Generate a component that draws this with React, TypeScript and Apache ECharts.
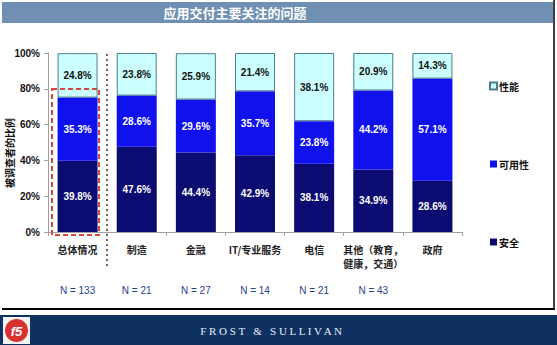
import React, { useEffect, useRef } from "react";
import * as echarts from "echarts";

const categories = ["总体情况", "制造", "金融", "IT/专业服务", "电信", "其他（教育，\n健康，交通）", "政府"];
const sampleSizes = ["N = 133", "N = 21", "N = 27", "N = 14", "N = 21", "N = 43", ""];
const security = [39.8, 47.6, 44.4, 42.9, 38.1, 34.9, 28.6];
const availability = [35.3, 28.6, 29.6, 35.7, 23.8, 44.2, 57.1];
const performance = [24.8, 23.8, 25.9, 21.4, 38.1, 20.9, 14.3];
const yTicks = [0, 20, 40, 60, 80, 100];

const TITLE = "应用交付主要关注的问题";
const Y_NAME = "被调查者的比例";

export default function App() {
  const ref = useRef<HTMLDivElement>(null);
  useEffect(() => {
    if (!ref.current) return;
    const chart = echarts.init(ref.current, null, { renderer: "svg" });
    const labelFont = { fontFamily: "Liberation Sans, Arial, sans-serif", fontWeight: "bold" as const, fontSize: 10 };
    const cjk = "Noto Sans CJK SC, sans-serif";
    chart.setOption({
      animation: false,
      backgroundColor: "#ffffff",
      grid: { left: 48, right: 95, top: 53, bottom: 113, containLabel: false, outerBoundsMode: "none" },
      legend: {
        orient: "vertical",
        left: 484,
        top: 76,
        itemGap: 68,
        itemWidth: 7,
        itemHeight: 7,
        icon: "rect",
        data: ["性能", "可用性", "安全"],
        textStyle: { fontFamily: cjk, fontSize: 10, fontWeight: "bold", color: "#111", padding: [0, 0, 0, -3] },
      },
      xAxis: [
        {
          type: "category",
          data: categories,
          axisLine: { lineStyle: { color: "#a0a0a0" } },
          axisTick: { show: true, length: 4, lineStyle: { color: "#a0a0a0" } },
          axisLabel: { margin: 10, fontFamily: cjk, fontSize: 10, fontWeight: "bold", color: "#222", lineHeight: 14, interval: 0 },
        },
        {
          type: "category",
          data: sampleSizes,
          position: "bottom",
          offset: 45,
          axisLine: { show: false },
          axisTick: { show: false },
          axisLabel: { margin: 8, fontFamily: "Liberation Sans, Arial, sans-serif", fontSize: 10, color: "#1f3f8f", interval: 0 },
        },
      ],
      yAxis: {
        type: "value",
        min: yTicks[0],
        max: yTicks[yTicks.length - 1],
        interval: 20,
        axisLine: { show: true, lineStyle: { color: "#a0a0a0" } },
        axisTick: { show: true, length: 4, lineStyle: { color: "#a0a0a0" } },
        splitLine: { show: false },
        axisLabel: { ...labelFont, color: "#111", margin: 8, formatter: "{value}%" },
      },
      series: [
        {
          name: "安全",
          type: "bar",
          stack: "s",
          barWidth: 40,
          data: security,
          itemStyle: { color: "#0b0b72" },
          label: { show: true, position: "inside", ...labelFont, color: "#fff", formatter: (p: any) => p.value.toFixed(1) + "%" },
        },
        {
          name: "可用性",
          type: "bar",
          stack: "s",
          barWidth: 40,
          data: availability,
          itemStyle: { color: "#1111ee" },
          label: { show: true, position: "inside", ...labelFont, color: "#fff", formatter: (p: any) => p.value.toFixed(1) + "%" },
        },
        {
          name: "性能",
          type: "bar",
          stack: "s",
          barWidth: 40,
          data: performance,
          itemStyle: { color: "#ccffff", borderColor: "#4d7d8c", borderWidth: 1 },
          label: { show: true, position: "inside", ...labelFont, color: "#111", formatter: (p: any) => p.value.toFixed(1) + "%" },
        },
      ],
      graphic: [
        { type: "rect", shape: { x: 2, y: 2, width: 551, height: 21 }, style: { fill: "#7090b3" }, z: 10 },
        {
          type: "text",
          x: 235,
          y: 12.5,
          style: { text: TITLE, fill: "#ffffff", font: "bold 13px 'Noto Sans CJK SC', sans-serif", textAlign: "center", textVerticalAlign: "middle" },
          z: 11,
        },
        {
          type: "text",
          x: 9,
          y: 153,
          rotation: Math.PI / 2,
          style: { text: Y_NAME, fill: "#111", font: "bold 10px 'Noto Sans CJK SC', sans-serif", textAlign: "center", textVerticalAlign: "middle" },
          z: 11,
        },
        { type: "line", shape: { x1: 554, y1: 0, x2: 554, y2: 309 }, style: { stroke: "#000", lineWidth: 1.5 }, z: 10 },
        { type: "line", shape: { x1: 2, y1: 309, x2: 555, y2: 309 }, style: { stroke: "#000", lineWidth: 2 }, z: 10 },
        { type: "rect", shape: { x: 0, y: 315, width: 557, height: 30 }, style: { fill: "#0e3161" }, z: 10 },
        {
          type: "text",
          x: 271,
          y: 331,
          style: { text: "F R O S T   &   S U L L I V A N", fill: "#e8edf4", font: "11px 'Liberation Serif', serif", textAlign: "center", textVerticalAlign: "middle" },
          z: 11,
        },
        { type: "rect", shape: { x: 3, y: 317, width: 27, height: 27 }, style: { fill: "#f2f2f2" }, z: 11 },
        { type: "circle", shape: { cx: 16.5, cy: 330.5, r: 12 }, style: { fill: "#d7322f", stroke: "#ffffff", lineWidth: 1 }, z: 12 },
        {
          type: "text",
          x: 16.5,
          y: 331,
          style: { text: "f5", fill: "#ffffff", font: "italic bold 13px 'Liberation Sans', sans-serif", textAlign: "center", textVerticalAlign: "middle" },
          z: 13,
        },
        {
          type: "rect",
          shape: { x: 52, y: 89, width: 47, height: 146 },
          style: { fill: "none", stroke: "#d9483f", lineWidth: 2, lineDash: [5, 3] },
          z: 20,
        },
        {
          type: "line",
          shape: { x1: 107, y1: 54, x2: 107, y2: 266 },
          style: { stroke: "#666", lineWidth: 2, lineDash: [2, 3] },
          z: 20,
        },
      ],
    });
    return () => chart.dispose();
  }, []);
  return <div ref={ref} style={{ position: "fixed", left: 0, top: 0, width: 557, height: 345 }} />;
}
